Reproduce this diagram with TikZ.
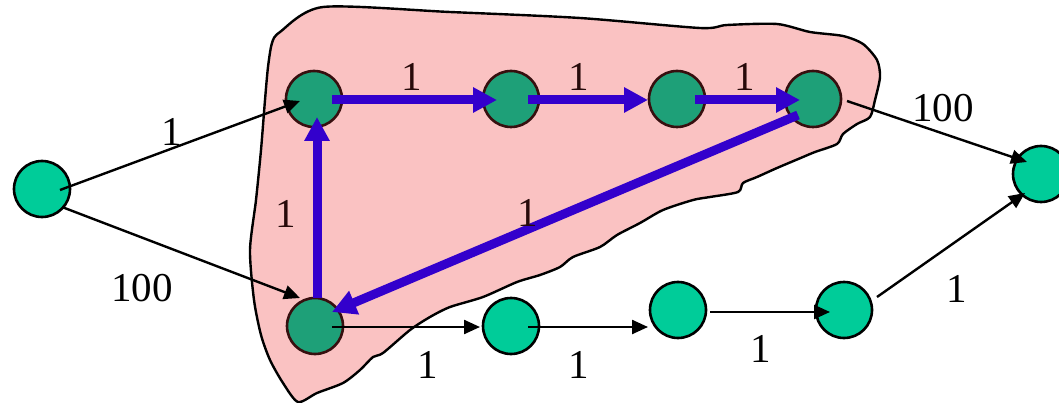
\documentclass[tikz,border=0pt]{standalone}
\usepackage{fontspec}
\setmainfont{Liberation Serif}
\usetikzlibrary{arrows.meta,calc}
\definecolor{outgreen}{RGB}{0,204,153}
\definecolor{ingreen}{RGB}{30,160,120}
\definecolor{inrim}{RGB}{55,15,15}
\definecolor{blobpink}{RGB}{250,194,194}
\definecolor{pathblue}{RGB}{51,0,204}
\begin{document}
\begin{tikzpicture}[x=1pt,y=-1pt,
  outnode/.style={circle,minimum size=56pt,inner sep=0pt,fill=outgreen,draw=black,line width=2.6pt},
  innode/.style={circle,minimum size=56pt,inner sep=0pt,fill=ingreen,draw=inrim,line width=2.6pt},
  edge/.style={line width=2.4pt,draw=black,-{Triangle[length=16pt,width=14pt]}},
  bluearrow/.style={line width=9pt,draw=pathblue,-{Triangle[length=24pt,width=24pt]}},
  lab/.style={inner sep=0pt,font=\fontsize{41}{41}\selectfont},
  inlab/.style={lab,text=inrim!70!black}]
\useasboundingbox (0,0) rectangle (1059,403);
\fill[white] (0,0) rectangle (1059,403);
% blob
\draw[fill=blobpink,line width=2.4pt,line join=round]
  plot[smooth cycle,tension=0.45] coordinates {
  (323,7) (450,12) (580,18) (700,28) (727,25) (777,24) (810,32) (843,36)
  (863,44) (877,60) (880,77) (875,100) (870,117) (857,124) (843,134)
  (837,144) (815,152) (803,157) (777,168) (757,177) (743,183) (738,192)
  (710,197) (693,200) (663,210) (640,223) (617,235) (600,247) (573,257)
  (560,267) (540,275) (517,282) (483,297) (450,307) (430,317) (410,330)
  (383,353) (373,357) (360,370) (343,383) (317,393) (298,402) (283,383)
  (270,360) (261,335) (254,300) (250,250) (256,200) (261,150) (265,100)
  (268,67) (272,43) (280,32)};
% nodes
\node[outnode] (S) at (42,189) {};
\node[innode] (A) at (314,99) {};
\node[innode] (B) at (511,99) {};
\node[innode] (C) at (677,99) {};
\node[innode] (D) at (813,99) {};
\node[innode] (E) at (315,326) {};
\node[outnode] (F) at (511,326) {};
\node[outnode] (G) at (678,310) {};
\node[outnode] (H) at (844,310) {};
\node[outnode] (T) at (1041,174) {};
% black edges
\draw[edge] ($(S)+(18,1)$) -- ($(A)+(-14,2)$);
\draw[edge] ($(S)+(20,18)$) -- ($(E)+(-15,-28)$);
\draw[edge] ($(E)+(17,1)$) -- ($(F)+(-31,1)$);
\draw[edge] ($(F)+(17,1)$) -- ($(G)+(-30,17)$);
\draw[edge] ($(G)+(32,2)$) -- ($(H)+(-14,2)$);
\draw[edge] ($(H)+(33,-13)$) -- ($(T)+(-16,19)$);
\draw[edge] ($(D)+(34,2)$) -- ($(T)+(-14,-12)$);
% blue path
\draw[bluearrow] ($(E)+(2,-28)$) -- ($(A)+(3,18)$);
\draw[bluearrow] ($(A)+(18,1)$) -- ($(B)+(-14,1)$);
\draw[bluearrow] ($(B)+(17,1)$) -- ($(C)+(-29,1)$);
\draw[bluearrow] ($(C)+(18,1)$) -- ($(D)+(-13,1)$);
\draw[bluearrow] ($(D)+(-15,16)$) -- ($(E)+(17,-14)$);
% labels
\node[lab] (l1) at (172,132) {1};
\node[lab] (l2) at (142,288) {100};
\node[inlab] (l3) at (286,214) {1};
\node[inlab] (l4) at (412,77) {1};
\node[inlab] (l5) at (579,77) {1};
\node[inlab] (l6) at (745,77) {1};
\node[lab] (l7) at (943,108) {100};
\node[inlab] (l8) at (528,213) {1};
\node[lab] (l9) at (428,365) {1};
\node[lab] (l10) at (579,365) {1};
\node[lab] (l11) at (761,349) {1};
\node[lab] (l12) at (957,289) {1};
\end{tikzpicture}
\end{document}
